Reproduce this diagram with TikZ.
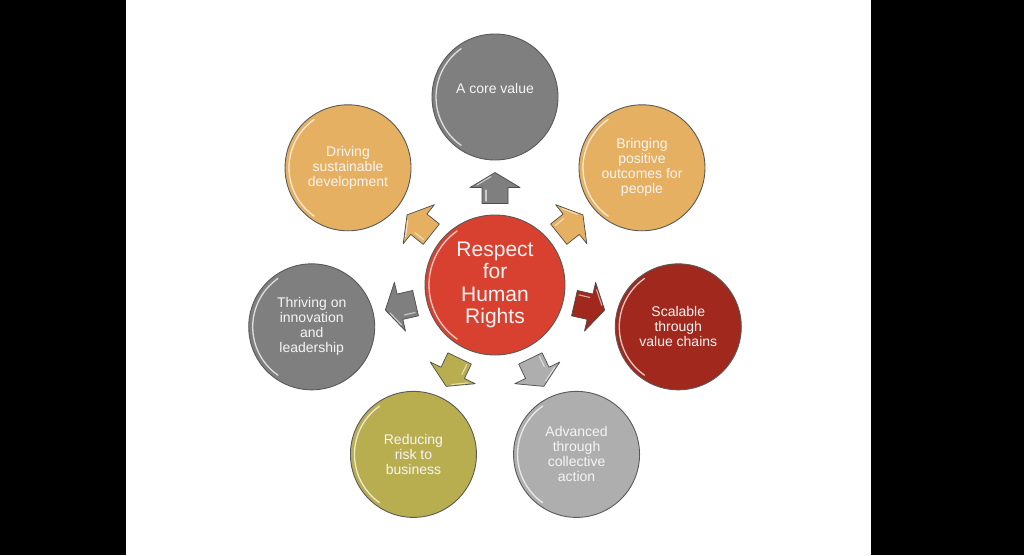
\documentclass[tikz,border=0pt]{standalone}
\usepackage{fontspec}
\setmainfont{Liberation Sans}
\usetikzlibrary{calc}
\definecolor{cgray}{RGB}{127,127,127}
\definecolor{ctan}{RGB}{229,176,98}
\definecolor{cdred}{RGB}{160,40,28}
\definecolor{clgray}{RGB}{174,174,174}
\definecolor{colive}{RGB}{184,174,80}
\definecolor{hubred}{RGB}{216,65,47}
\definecolor{txt}{RGB}{245,245,245}
\begin{document}
\begin{tikzpicture}[x=1pt,y=1pt,
  bubble/.style={circle, minimum size=126pt, inner sep=0pt, draw=black!65, line width=0.9pt,
    text=txt, align=center, font=\fontsize{14}{15}\selectfont},
  hub/.style={circle, minimum size=140pt, inner sep=0pt, draw=black!65, line width=0.9pt,
    text=txt, align=center, font=\fontsize{21}{22.2}\selectfont},
  blockarrow/.style={draw=black!70, line width=0.7pt, line join=round},
  gloss/.style={white, opacity=0.75, line width=1.3pt, line cap=round}]
\fill[black] (0,0) rectangle (126,-555);
\fill[white] (126,0) rectangle (871,-555);
\fill[black] (871,0) rectangle (1024,-555);
\useasboundingbox (0,0) rectangle (1024,-555);

\node[hub, fill=hubred] (hub) at (495,-285) {Respect\\for\\Human\\Rights};
\draw[gloss] ([shift={(125:66)}]hub.center) arc[start angle=125, end angle=235, radius=66];

\foreach \i/\ang/\col/\txt/\ys in {
  1/90/cgray/{A core value}/9,
  2/38.57/ctan/{Bringing\\positive\\outcomes for\\people}/0,
  3/-12.86/cdred/{Scalable\\through\\value chains}/0,
  4/-64.29/clgray/{Advanced\\through\\collective\\action}/0,
  5/-115.71/colive/{Reducing\\risk to\\business}/0,
  6/-167.14/cgray/{Thriving on\\innovation\\and\\leadership}/0,
  7/141.43/ctan/{Driving\\sustainable\\development}/0}{
  \node[bubble, fill=\col] (c\i) at ($(hub.center)+(\ang:188)$) {};
  \node[text=txt, align=center, font=\fontsize{14}{15}\selectfont, yshift=\ys pt] (t\i) at (c\i.center) {\txt};
  \draw[gloss] ([shift={(125:59)}]c\i.center) arc[start angle=125, end angle=235, radius=59];
  \begin{scope}[shift={(hub.center)}, rotate=\ang]
    \filldraw[blockarrow, fill=\col] (81.5,-13) -- (97.5,-13) -- (97.5,-25) -- (112.5,0)
      -- (97.5,25) -- (97.5,13) -- (81.5,13) -- cycle;
    \draw[white, opacity=0.6, line width=1.1pt, line cap=round] (100,18) -- (108.5,4);
    \draw[white, opacity=0.6, line width=1.1pt, line cap=round] (84,9) -- (95,9);
  \end{scope}
}
\end{tikzpicture}
\end{document}
